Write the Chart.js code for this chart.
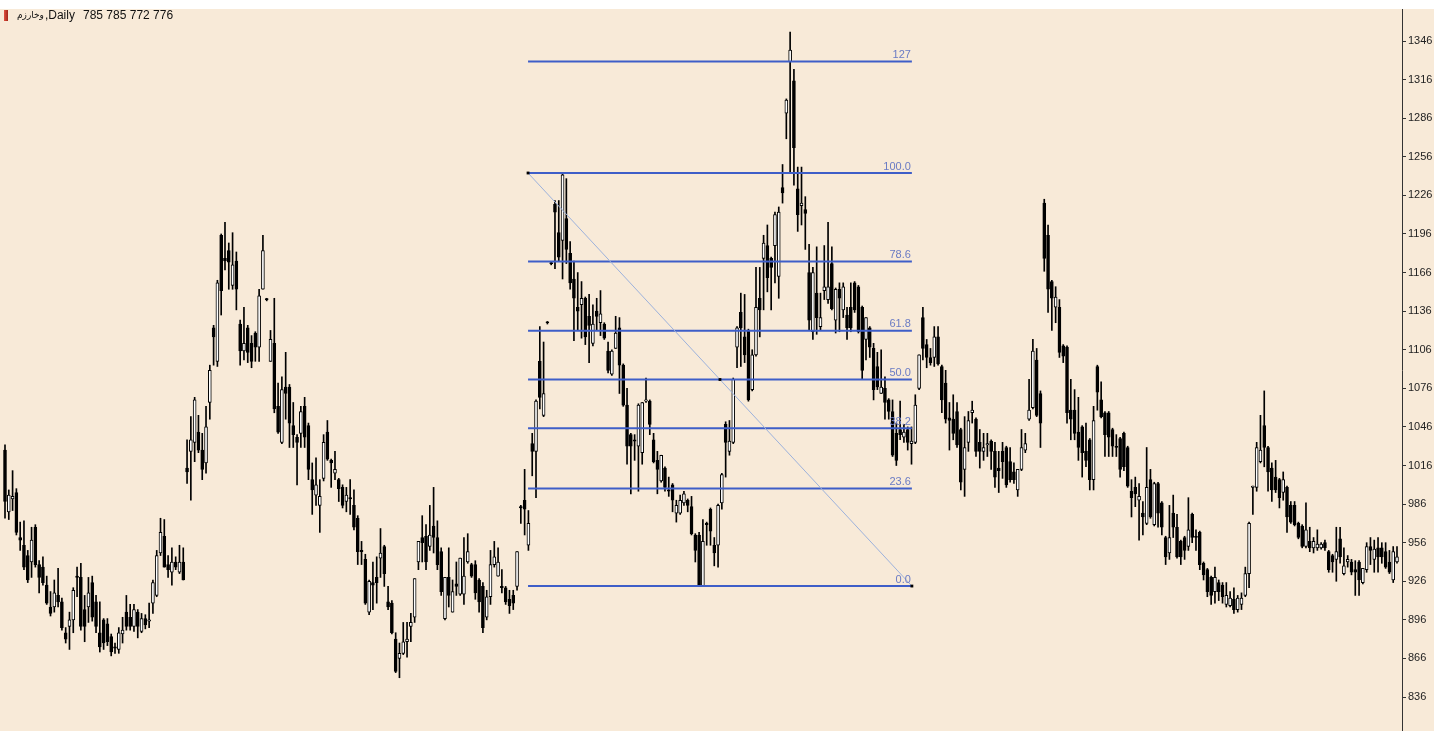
<!DOCTYPE html>
<html>
<head>
<meta charset="utf-8">
<script src="https://cdn.jsdelivr.net/npm/chart.js@4.4.0/dist/chart.umd.min.js"></script>
<style>
  html, body { margin: 0; padding: 0; background: #fff; }
  canvas { display: block; }
</style>
</head>
<body>
<canvas id="chart" width="1434" height="731"></canvas>
<script>
/*
-------------------------------------
/// data (daily candles)
-------------------------------------
*/
const symbolName = 'وخارزم';
const period = ',Daily';
const lastQuote = '785 785 772 776';

const opens = [
  1028,980,990,995,960,954,946,941,968,939, 937,923,906,906,915,910,886,891,896,930,
  929,904,906,925,910,886,896,893,883,875, 873,885,902,898,891,902,887,897,895,909,
  915,948,961,939,933,941,933,941,1014,1027, 1034,1042,1028,1018,1065,1123,1097,1195,1177,1183,
  1156,1175,1126,1105,1123,1111,1119,1108,1153,1145, 1097,1111,1062,1034,1077,1077,1047,1038,1041,1062,
  1047,1005,993,985,1006,1042,1020,1010,1005,999, 988,991,985,975,950,943,902,925,929,944,
  953,910,909,881,866,870,879,891,898,941, 960,961,953,969,960,949,897,929,902,924,
  916,916,941,939,939,927,922,898,914,939, 930,922,921,912,915,922,984,989,954,1033,
  1027,1097,1055,1127,1173,1219,1197,1191,1208,1181, 1161,1139,1141,1146,1132,1111,1136,1127,1126,1105,
  1087,1107,1123,1094,1063,1040,1036,1031,1026,1066, 1066,1036,1020,1004,1014,997,1001,979,979,987,
  989,984,962,962,922,971,982,954,954,987, 1048,1027,1034,1108,1135,1116,1121,1075,1102,1146,
  1177,1187,1177,1187,1163,1232,1290,1330,1315,1231, 1218,1215,1166,1120,1150,1124,1152,1145,1173,1129,
  1153,1137,1133,1139,1158,1155,1139,1114,1123,1107, 1093,1072,1076,1067,1058,1041,1044,1038,1044,1033,
  1034,1076,1131,1110,1100,1100,1116,1093,1080,1053, 1052,1058,1044,1013,1034,1057,1052,1034,1027,1032,
  1035,1027,1014,1027,1030,1019,1011,997,1013,1028, 1052,1061,1098,1072,1220,1195,1159,1139,1139,1109,
  1108,1059,1059,1042,1046,1027,1036,1005,1093,1067, 1057,1057,1044,1031,1037,1041,1030,996,999,989,
  979,971,1005,970,1002,987,960,948,979,968, 957,960,953,978,961,964,940,935,929,918,
  925,923,908,907,912,904,908,915,932,999, 999,1019,1047,1030,1014,1007,1005,995,999,985,
  985,971,969,953,957,952,952,952,956,949, 946,943,959,932,941,941,935,941,925,935,
  953,943,952,952,949,941,927,941
];
const highs = [
  1032,997,1012,998,972,973,950,968,970,942, 945,930,918,927,936,913,890,902,921,937,
  940,915,929,930,915,910,897,897,885,878, 890,898,915,908,908,904,901,900,909,927,
  950,975,974,946,952,945,954,952,1036,1054, 1069,1055,1041,1062,1094,1125,1160,1196,1205,1189,
  1197,1182,1129,1139,1125,1117,1120,1153,1195,1146, 1121,1146,1080,1085,1104,1079,1065,1040,1062,1069,
  1049,1018,1022,1005,1040,1051,1021,1027,1006,1001, 999,1005,997,977,957,947,927,941,945,967,
  954,922,911,886,878,894,894,901,928,957, 977,970,985,999,973,952,929,952,927,941,
  944,960,963,940,942,928,925,919,950,957, 952,935,922,919,919,949,985,1013,981,1041,
  1067,1124,1112,1128,1174,1222,1222,1243,1239,1190, 1175,1166,1159,1147,1149,1141,1146,1152,1127,1112,
  1106,1132,1131,1095,1076,1041,1040,1064,1065,1084, 1067,1041,1027,1024,1015,1007,1002,989,993,996,
  990,992,963,964,974,972,983,960,986,1010, 1050,1051,1084,1124,1150,1149,1122,1106,1170,1170,
  1195,1203,1178,1213,1217,1250,1301,1353,1324,1248, 1248,1225,1188,1170,1186,1150,1187,1205,1186,1154,
  1158,1158,1139,1158,1159,1156,1140,1131,1124,1111, 1104,1106,1085,1068,1067,1049,1066,1048,1046,1046,
  1071,1102,1139,1114,1107,1124,1124,1094,1090,1065, 1071,1065,1045,1054,1058,1066,1053,1044,1041,1041,
  1036,1034,1027,1034,1031,1030,1018,1013,1044,1041, 1083,1114,1107,1074,1223,1203,1160,1155,1145,1110,
  1109,1083,1075,1069,1047,1049,1037,1062,1094,1081, 1058,1058,1045,1040,1038,1042,1031,1005,1007,1002,
  988,1030,1013,1003,1003,988,961,985,993,978, 958,961,991,979,966,965,941,936,930,937,
  927,925,925,918,921,915,917,937,972,1000, 1034,1055,1074,1031,1018,1020,1006,1011,1000,988,
  988,972,970,987,968,960,966,956,958,950, 947,968,968,952,946,943,942,942,936,956,
  960,958,960,956,956,950,953,953
];
const lows = [
  975,974,981,962,950,935,925,929,937,917, 923,908,899,902,906,888,878,873,886,914,
  888,879,894,895,886,871,873,876,868,870, 870,878,888,888,887,882,886,889,890,901,
  914,946,937,929,923,935,932,927,1002,989, 1019,1026,1005,1010,1052,1094,1093,1133,1168,1153,
  1153,1137,1094,1098,1096,1092,1097,1097,1153,1144, 1097,1057,1041,1033,1052,1030,1030,1001,1030,1030,
  1005,978,985,964,1004,1020,999,1005,988,983, 980,978,966,939,939,908,900,904,909,929,
  922,904,885,855,851,869,867,879,894,935, 941,935,950,948,935,915,896,906,902,915,
  915,908,940,929,912,902,886,896,908,937, 930,917,908,901,904,919,971,962,950,1008,
  991,1060,1054,1126,1172,1169,1175,1161,1173,1153, 1113,1121,1115,1110,1096,1109,1121,1117,1114,1088,
  1086,1107,1072,1062,1017,994,1020,996,1017,1065, 1040,1018,994,1003,996,992,980,972,978,985,
  980,962,941,922,922,954,954,938,937,982, 1007,1024,1033,1092,1093,1096,1066,1074,1101,1116,
  1137,1151,1137,1158,1146,1220,1270,1244,1234,1198, 1203,1184,1121,1114,1118,1121,1145,1142,1137,1119,
  1120,1131,1114,1120,1135,1119,1083,1098,1100,1067, 1075,1072,1052,1052,1023,1016,1036,1034,1028,1017,
  1033,1075,1098,1092,1094,1093,1094,1057,1049,1028, 1036,1030,997,992,1027,1049,1023,1014,1020,1023,
  1013,999,995,1006,999,1003,1002,992,1012,1026, 1051,1060,1054,1030,1167,1135,1121,1127,1100,1096,
  1049,1036,1036,1020,1007,1015,997,997,1059,1053, 1023,1023,1023,1023,1007,1012,999,976,984,958,
  962,970,975,969,968,962,939,943,960,944, 939,943,950,956,950,935,927,914,908,909,
  911,909,906,906,901,902,904,914,921,978, 996,1018,1015,996,988,995,983,989,964,971,
  969,959,952,952,949,948,950,951,950,933, 933,926,940,931,937,931,915,915,924,933,
  939,933,933,940,936,932,925,940
];
const closes = [
  988,993,992,964,958,937,927,958,939,929, 925,909,901,917,910,890,881,896,919,929,
  891,891,917,898,891,875,878,879,871,874, 886,888,891,891,904,891,897,892,896,925,
  946,964,937,935,941,937,941,927,1011,1036, 1067,1028,1013,1046,1090,1116,1158,1152,1175,1174,
  1172,1153,1105,1111,1104,1097,1108,1148,1183,1145, 1114,1060,1042,1075,1072,1049,1040,1034,1058,1038,
  1013,997,1001,992,1034,1021,1018,1013,998,985, 993,990,968,949,949,909,926,923,925,948,
  932,906,886,856,870,879,881,894,928,957, 956,941,962,960,939,918,929,915,918,922,
  944,930,949,930,917,910,890,914,939,945, 941,921,910,907,909,949,983,982,971,1027,
  1066,1069,1072,1127,1173,1213,1178,1242,1184,1158, 1146,1136,1146,1116,1125,1126,1132,1134,1115,1090,
  1105,1119,1094,1063,1031,1031,1035,1063,1065,1067, 1048,1019,1013,1024,999,996,989,985,989,994,
  985,963,950,923,957,970,965,948,985,1009, 1034,1035,1083,1123,1123,1102,1067,1102,1139,1137,
  1189,1162,1170,1211,1213,1228,1300,1339,1263,1211, 1220,1212,1129,1166,1131,1131,1155,1155,1138,1153,
  1146,1155,1123,1123,1137,1120,1090,1131,1108,1075, 1077,1077,1065,1058,1024,1020,1040,1042,1034,1035,
  1063,1102,1107,1100,1096,1116,1095,1067,1052,1051, 1041,1032,1003,1030,1051,1059,1027,1027,1030,1033,
  1027,1007,1012,1019,1001,1005,1005,1013,1030,1033, 1059,1105,1055,1049,1177,1153,1146,1147,1104,1101,
  1057,1052,1041,1030,1026,1020,1005,1051,1073,1054, 1040,1038,1031,1030,1013,1015,1000,991,994,992,
  976,999,976,1002,979,968,945,960,968,945, 945,950,966,960,960,939,931,918,915,929,
  918,914,915,913,904,913,913,932,971,1000, 1030,1028,1030,1011,997,997,991,1005,976,972,
  970,960,953,966,952,957,955,955,952,935, 941,949,945,938,943,933,933,927,936,953,
  950,951,945,945,937,933,949,945
];

// price axis tick labels
const yTicks = [836, 866, 896, 926, 956, 986, 1016, 1046, 1076, 1106, 1136, 1166, 1196, 1226, 1256, 1286, 1316, 1346];

// fibonacci retracement tool
const fibLow = 922.3;
const fibHigh = 1243.4;
const fibStartIdx = 137.9;
const fibEndIdx = 239.1;
const fibLevels = [0, 23.6, 38.2, 50, 61.8, 78.6, 100, 127];
const fibLabels = ['0.0', '23.6', '38.2', '50.0', '61.8', '78.6', '100.0', '127'];

/*
-------------------------------------
/// datasets
-------------------------------------
*/
const n = opens.length;
const step = (1397 - 5) / (n - 1);   // pixels per candle
const CREAM = '#F8EAD8';

function fibValue(level){
  return fibLow + (fibHigh - fibLow) * level / 100;
}

let wicks = {
  type: 'bar',
  data: highs.map((h, i) => ({x: i, y: [lows[i], h]})),
  backgroundColor: '#000',
  barThickness: 1,
  grouped: false,
  order: 3
};

let bodies = {
  type: 'bar',
  data: opens.map((o, i) => ({x: i, y: [o, closes[i]]})),
  backgroundColor: ctx => closes[ctx.dataIndex] > opens[ctx.dataIndex] ? '#fff' : '#000',
  borderColor: '#000',
  borderWidth: 1,
  borderSkipped: false,
  barThickness: 3,
  minBarLength: 1,
  grouped: false,
  order: 2
};

let fibSets = fibLevels.map(lv => ({
  type: 'line',
  data: [{x: fibStartIdx, y: fibValue(lv)}, {x: fibEndIdx, y: fibValue(lv)}],
  borderColor: '#3E5EC8',
  borderWidth: 2,
  pointRadius: 0,
  order: 1
}));

let trendSet = {
  type: 'line',
  data: [
    {x: fibStartIdx, y: fibHigh},
    {x: (fibStartIdx + fibEndIdx) / 2, y: (fibHigh + fibLow) / 2},
    {x: fibEndIdx, y: fibLow}
  ],
  borderColor: '#9DB2DC',
  borderWidth: 1,
  pointStyle: 'rect',
  pointRadius: 2,
  pointBackgroundColor: '#000',
  pointBorderColor: '#000',
  pointBorderWidth: 0,
  order: 0
};

/*
-------------------------------------
/// plugins: background, fib labels, header
-------------------------------------
*/
const backdrop = {
  id: 'backdrop',
  beforeDraw(chart){
    let c = chart.ctx;
    c.save();
    c.fillStyle = '#fff';
    c.fillRect(0, 0, chart.width, chart.height);
    c.fillStyle = CREAM;
    c.fillRect(0, 9, chart.width, chart.height - 9);
    c.restore();
  }
};

const fibText = {
  id: 'fibText',
  afterDatasetsDraw(chart){
    let c = chart.ctx;
    let xs = chart.scales.x, ys = chart.scales.y;
    c.save();
    c.font = '11px "Liberation Sans", Arial, sans-serif';
    c.fillStyle = '#6A7BC4';
    c.textAlign = 'right';
    c.textBaseline = 'bottom';
    fibLevels.forEach((lv, i) => {
      c.fillText(fibLabels[i], xs.getPixelForValue(fibEndIdx) - 1, ys.getPixelForValue(fibValue(lv)) - 1);
    });
    c.restore();
  }
};

const header = {
  id: 'header',
  afterDraw(chart){
    let c = chart.ctx;
    c.save();
    let g = c.createLinearGradient(4, 0, 8, 0);
    g.addColorStop(0, '#E05040');
    g.addColorStop(1, '#A02418');
    c.fillStyle = g;
    c.fillRect(4, 10, 4, 11);
    c.fillStyle = '#111';
    c.textBaseline = 'middle';
    c.textAlign = 'left';
    c.font = '9px "DejaVu Sans", sans-serif';
    c.fillText(symbolName, 17, 16);
    let w = c.measureText(symbolName).width;
    c.font = '12px "Liberation Sans", "DejaVu Sans", sans-serif';
    c.fillText(period, 17 + w + 1, 16);
    c.fillText(lastQuote, 83, 16);
    c.restore();
  }
};

/*
-------------------------------------
/// chart
-------------------------------------
*/
const ctx = document.getElementById('chart').getContext('2d');
const chart = new Chart(ctx, {
  type: 'bar',
  data: { datasets: [wicks, bodies, ...fibSets, trendSet] },
  options: {
    responsive: false,
    devicePixelRatio: 1,
    animation: false,
    layout: { autoPadding: false, padding: {top: 9, left: 0, right: 0, bottom: 0} },
    plugins: { legend: {display: false}, tooltip: {enabled: false} },
    scales: {
      x: {
        type: 'linear',
        display: false,
        offset: false,
        min: -5 / step,
        max: (n - 1) + 5 / step
      },
      y: {
        type: 'linear',
        position: 'right',
        min: 809.6,
        max: 1370.9,
        afterBuildTicks: scale => {
          scale.ticks = yTicks.map(v => ({value: v}));
        },
        afterFit: scale => {
          scale.width = 32;
          scale.paddingTop = 0;
          scale.paddingBottom = 0;
        },
        ticks: {
          color: '#222',
          padding: 2,
          font: {family: '"Liberation Sans", Arial, sans-serif', size: 11},
          callback: v => String(v)
        },
        grid: {
          drawOnChartArea: false,
          drawTicks: true,
          tickLength: 4,
          color: '#333'
        },
        border: { display: true, color: '#333', width: 1 }
      }
    }
  },
  plugins: [backdrop, fibText, header]
});
</script>
</body>
</html>
